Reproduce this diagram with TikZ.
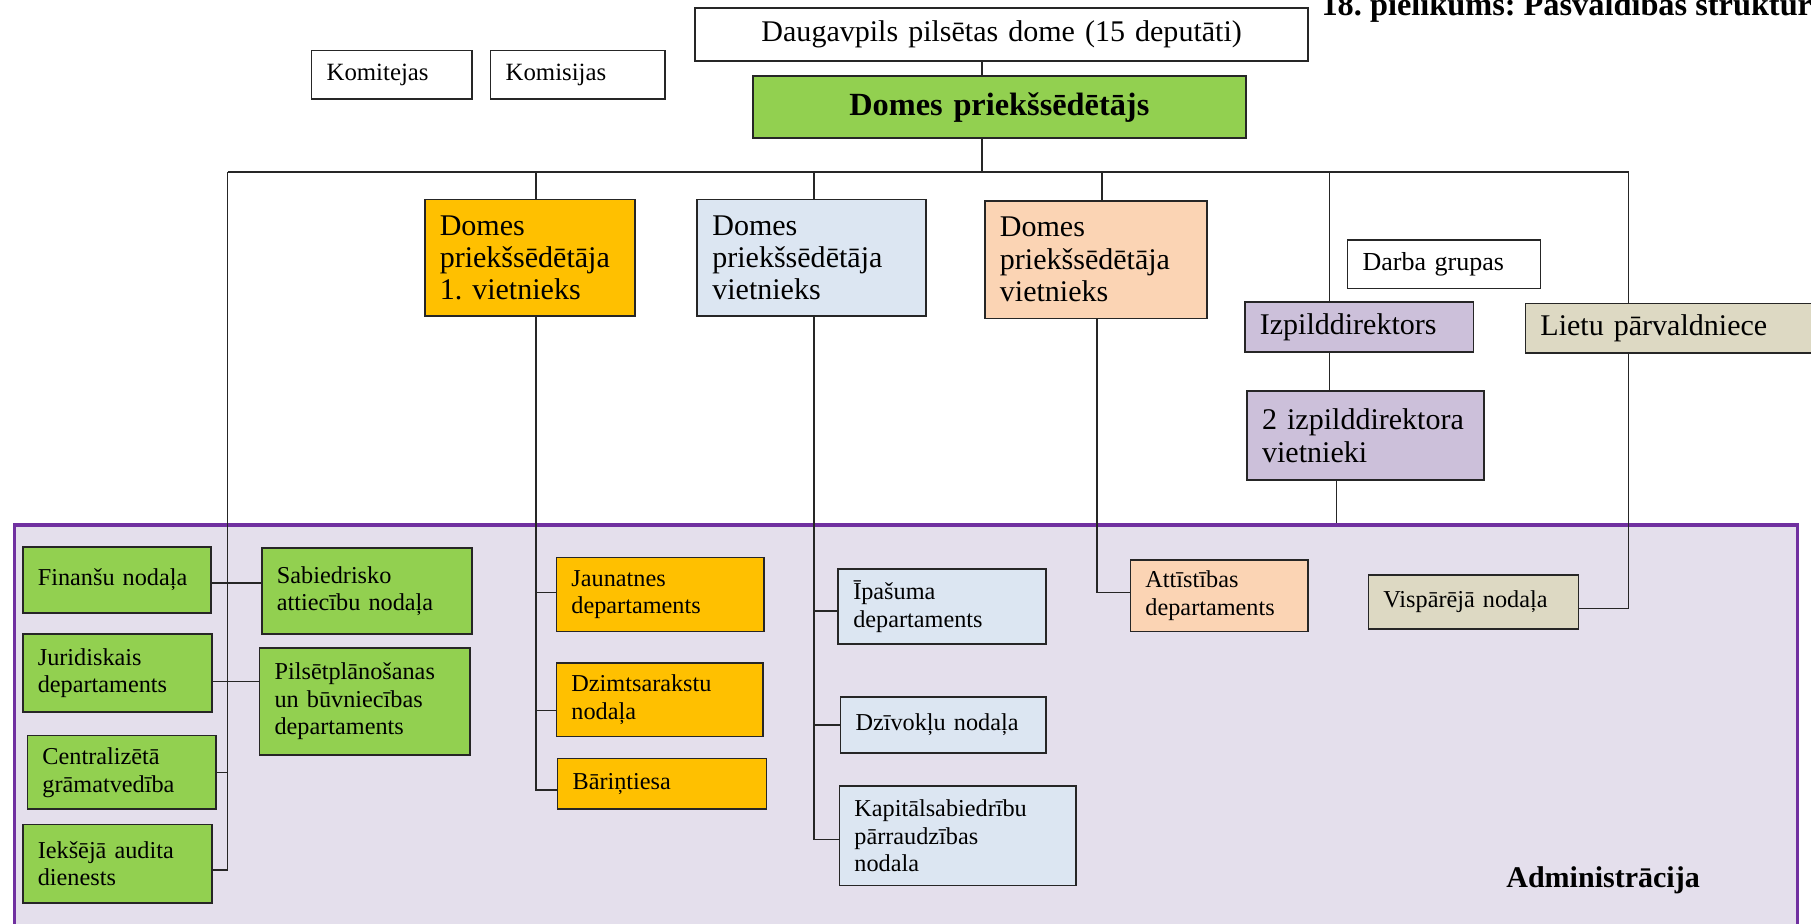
\documentclass[tikz,border=0pt]{standalone}
\usepackage{fontspec}
\setmainfont{Liberation Serif}
\frenchspacing
\newcommand\fsz[2]{\fontsize{#1}{#2}\selectfont}
\definecolor{cgreen}{HTML}{92D050}
\definecolor{corange}{HTML}{FFC000}
\definecolor{cblue}{HTML}{DCE6F2}
\definecolor{cpeach}{HTML}{FBD4B4}
\definecolor{cpurple}{HTML}{CCC0DA}
\definecolor{ctan}{HTML}{DDD9C3}
\definecolor{cadmin}{HTML}{E4DFEC}
\definecolor{cadminb}{HTML}{7030A0}
\tikzset{
  orgbox/.style={draw=black!85, line width=1.5pt, anchor=north west, inner xsep=13pt, inner ysep=0pt, align=left},
  smallbox/.style={orgbox, font=\fsz{21}{24}},
  bigbox/.style={orgbox, font=\fsz{26}{28}},
  conn/.style={draw=black!85, line width=1.4pt},
}
\begin{document}
\begin{tikzpicture}[x=1pt,y=-1pt]
\useasboundingbox (0,0) rectangle (1568,800);
% administration area
\node[draw=cadminb, fill=cadmin, line width=3pt, anchor=north west, minimum width=1544pt, minimum height=400pt, inner sep=0pt] (admin) at (11,453) {};
% top level
\node[bigbox, align=center, text width=505pt, minimum height=46pt, fill=white] (dome) at (601,6) {Daugavpils pilsētas dome (15 deputāti)};
\node[smallbox, font=\fsz{21.5}{24}, text width=113pt, minimum height=42pt, fill=white] (komit) at (269,43) {Komitejas};
\node[smallbox, font=\fsz{21.5}{24}, text width=125pt, minimum height=42pt, fill=white] (komis) at (424,43) {Komisijas};
\node[orgbox, align=center, font=\fsz{28}{30}\bfseries, text width=401pt, minimum height=54pt, fill=cgreen] (chair) at (651,65) {Domes priekšsēdētājs};
\node[anchor=base west, font=\fsz{28}{30}\bfseries, inner sep=0pt] (title) at (1144,13) {18. pielikums: Pašvaldības struktūra};
% deputies
\node[bigbox, text width=156pt, minimum height=101pt, fill=corange] (d1) at (367,172) {Domes\\priekšsēdētāja\\1. vietnieks};
\node[bigbox, text width=172pt, minimum height=101pt, fill=cblue] (d2) at (603,172) {Domes\\priekšsēdētāja\\vietnieks};
\node[bigbox, text width=166pt, minimum height=102pt, fill=cpeach] (d3) at (852,173) {Domes\\priekšsēdētāja\\vietnieks};
\node[smallbox, font=\fsz{22.5}{24}, text width=141pt, minimum height=42pt, fill=white] (darba) at (1166,207) {Darba grupas};
\node[bigbox, text width=172pt, minimum height=43pt, fill=cpurple] (izp) at (1077,261) {Izpilddirektors};
\node[bigbox, text width=234pt, minimum height=43pt, fill=ctan] (lietu) at (1320,262) {Lietu pārvaldniece};
\node[bigbox, text width=179pt, minimum height=77pt, fill=cpurple] (izp2) at (1079,338) {2 izpilddirektora\\vietnieki};
% left column
\node[smallbox, text width=137pt, minimum height=57pt, fill=cgreen] (fin) at (19,473) {Finanšu nodaļa\\[18pt]};
\node[smallbox, text width=156pt, minimum height=74pt, fill=cgreen] (sab) at (226,474) {Sabiedrisko\\attiecību nodaļa};
\node[smallbox, text width=138pt, minimum height=68pt, fill=cgreen] (jur) at (19,548) {Juridiskais\\departaments};
\node[smallbox, text width=156pt, minimum height=93pt, fill=cgreen] (pil) at (224,560) {Pilsētplānošanas\\un būvniecības\\departaments};
\node[smallbox, text width=137pt, minimum height=64pt, fill=cgreen] (cen) at (23,636) {Centralizētā\\grāmatvedība};
\node[smallbox, text width=138pt, minimum height=68pt, fill=cgreen] (iek) at (19,713) {Iekšējā audita\\dienests};
% first deputy column
\node[smallbox, text width=154pt, minimum height=64pt, fill=corange] (jau) at (481,482) {Jaunatnes\\departaments};
\node[smallbox, text width=153pt, minimum height=64pt, fill=corange] (dzi) at (481,573) {Dzimtsarakstu\\nodaļa};
\node[smallbox, text width=155pt, minimum height=44pt, fill=corange] (bar) at (482,656) {Bāriņtiesa};
% second deputy column
\node[smallbox, text width=154pt, minimum height=65pt, fill=cblue] (ipa) at (725,492) {Īpašuma\\departaments};
\node[smallbox, text width=152pt, minimum height=48pt, fill=cblue] (dzv) at (727,603) {Dzīvokļu nodaļa};
\node[smallbox, text width=179pt, minimum height=86pt, fill=cblue] (kap) at (726,680) {Kapitālsabiedrību\\pārraudzības\\nodala};
% third deputy
\node[smallbox, text width=128pt, minimum height=62pt, fill=cpeach] (att) at (978,484) {Attīstības\\departaments};
% general dept
\node[smallbox, text width=156pt, minimum height=47pt, fill=ctan] (vis) at (1184,497) {Vispārējā nodaļa};
\node[anchor=base west, font=\fsz{26}{28}\bfseries, inner sep=0pt] (admtext) at (1304,768) {Administrācija};
% connector coordinates
\coordinate (jc) at (850,149);
\coordinate (b0) at (197,149);
\coordinate (b1) at (464,149);
\coordinate (b2) at (705,149);
\coordinate (b3) at (954,149);
\coordinate (b4) at (1151,149);
\coordinate (b5) at (1410,149);
\coordinate (lv3) at (950,0);
\coordinate (lv6) at (1157,0);
\coordinate (y505) at (0,505);
\coordinate (y590) at (0,590);
\coordinate (y753) at (0,753);
\coordinate (y513) at (0,513);
\coordinate (y615) at (0,615);
\coordinate (y684) at (0,684);
\coordinate (y529) at (0,529);
\coordinate (y727) at (0,727);
\coordinate (y527) at (0,527);
% connectors
\draw[conn] (dome.south -| jc) -- (chair.north -| jc);
\draw[conn] (chair.south -| jc) -- (jc);
\draw[conn] (b0) -- (b5);
\draw[conn] (b1) -- (b1 |- d1.north);
\draw[conn] (b2) -- (b2 |- d2.north);
\draw[conn] (b3) -- (b3 |- d3.north);
\draw[conn] (b4) -- (b4 |- izp.north);
\draw[conn] (b5) -- (b5 |- lietu.north);
% left branch
\draw[conn] (b0) -- (b0 |- y753) -- (iek.east |- y753);
\draw[conn] (fin.east |- y505) -- (sab.west |- y505);
\draw[conn] (jur.east |- y590) -- (pil.west |- y590);
\draw[conn] (cen.east) -- (cen.east -| b0);
% first deputy
\draw[conn] (b1 |- d1.south) -- (b1 |- y684) -- (bar.west |- y684);
\draw[conn] (b1 |- y513) -- (jau.west |- y513);
\draw[conn] (b1 |- y615) -- (dzi.west |- y615);
% second deputy
\draw[conn] (b2 |- d2.south) -- (b2 |- y727) -- (kap.west |- y727);
\draw[conn] (b2 |- y529) -- (ipa.west |- y529);
\draw[conn] (b2 |- dzv.west) -- (dzv.west);
% third deputy
\draw[conn] (lv3 |- d3.south) -- (lv3 |- y513) -- (att.west |- y513);
% executive director
\draw[conn] (b4 |- izp.south) -- (b4 |- izp2.north);
\draw[conn] (lv6 |- izp2.south) -- (lv6 |- admin.north);
% lietu
\draw[conn] (b5 |- lietu.south) -- (b5 |- y527) -- (vis.east |- y527);
\end{tikzpicture}
\end{document}
